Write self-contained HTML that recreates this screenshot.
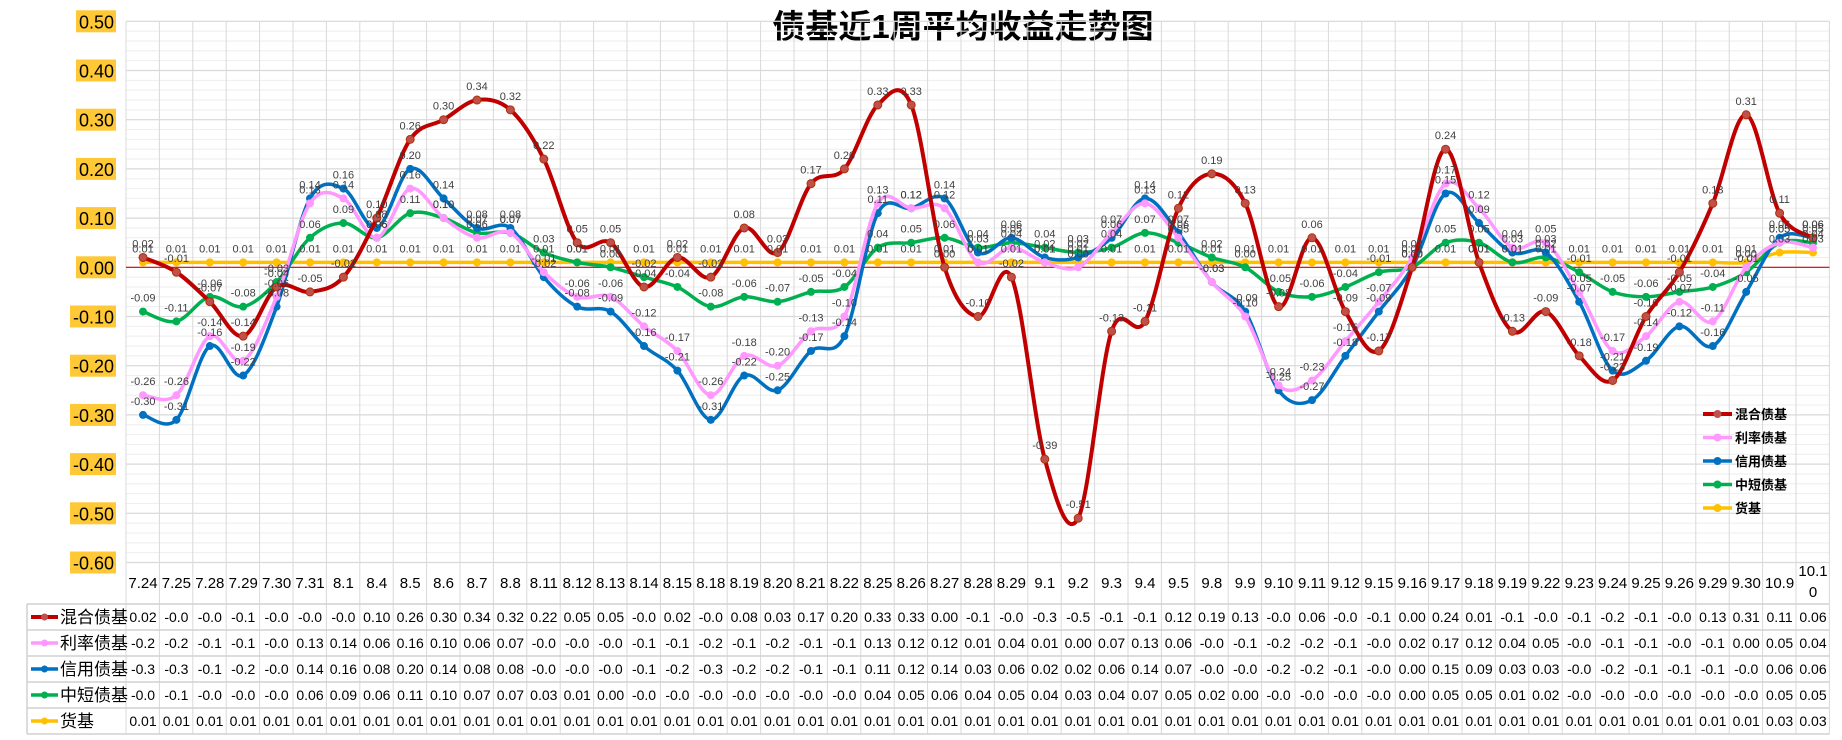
<!DOCTYPE html>
<html><head><meta charset="utf-8">
<style>
html,body{margin:0;padding:0;background:#fff;}
svg{display:block;font-family:"Liberation Sans","Noto Sans CJK SC",sans-serif;}
</style></head>
<body>
<svg id="chart" width="1842" height="740" viewBox="0 0 1842 740" xmlns="http://www.w3.org/2000/svg">
<rect width="1842" height="740" fill="#fff"/>
<text x="963" y="38" text-anchor="middle" font-size="33" font-weight="bold" fill="#000" font-family="'Liberation Sans','Noto Sans CJK SC',sans-serif">债基近1周平均收益走势图</text>
<g id="grid"></g>
<g id="yaxis"></g>
<g id="series"></g>
<g id="labels"></g>
<g id="table"></g>
<g id="legend"></g>
</svg>
<script>
const categories=["7.24","7.25","7.28","7.29","7.30","7.31","8.1","8.4","8.5","8.6","8.7","8.8","8.11","8.12","8.13","8.14","8.15","8.18","8.19","8.20","8.21","8.22","8.25","8.26","8.27","8.28","8.29","9.1","9.2","9.3","9.4","9.5","9.8","9.9","9.10","9.11","9.12","9.15","9.16","9.17","9.18","9.19","9.22","9.23","9.24","9.25","9.26","9.29","9.30","10.9","10.10"];
const hunheValues=[0.02,-0.01,-0.07,-0.14,-0.04,-0.05,-0.02,0.10,0.26,0.30,0.34,0.32,0.22,0.05,0.05,-0.04,0.02,-0.02,0.08,0.03,0.17,0.20,0.33,0.33,0.00,-0.10,-0.02,-0.39,-0.51,-0.13,-0.11,0.12,0.19,0.13,-0.08,0.06,-0.09,-0.17,0.00,0.24,0.01,-0.13,-0.09,-0.18,-0.23,-0.10,-0.01,0.13,0.31,0.11,0.06];
const lilvValues=[-0.26,-0.26,-0.14,-0.19,-0.06,0.13,0.14,0.06,0.16,0.10,0.06,0.07,-0.01,-0.06,-0.06,-0.12,-0.17,-0.26,-0.18,-0.20,-0.13,-0.10,0.13,0.12,0.12,0.01,0.04,0.01,0.00,0.07,0.13,0.06,-0.03,-0.10,-0.24,-0.23,-0.15,-0.07,0.02,0.17,0.12,0.04,0.05,-0.05,-0.17,-0.14,-0.07,-0.11,0.00,0.05,0.04];
const xinyongValues=[-0.30,-0.31,-0.16,-0.22,-0.08,0.14,0.16,0.08,0.20,0.14,0.08,0.08,-0.02,-0.08,-0.09,-0.16,-0.21,-0.31,-0.22,-0.25,-0.17,-0.14,0.11,0.12,0.14,0.03,0.06,0.02,0.02,0.06,0.14,0.07,-0.03,-0.09,-0.25,-0.27,-0.18,-0.09,0.00,0.15,0.09,0.03,0.03,-0.07,-0.21,-0.19,-0.12,-0.16,-0.05,0.06,0.06];
const zhongduanValues=[-0.09,-0.11,-0.06,-0.08,-0.03,0.06,0.09,0.06,0.11,0.10,0.07,0.07,0.03,0.01,0.00,-0.02,-0.04,-0.08,-0.06,-0.07,-0.05,-0.04,0.04,0.05,0.06,0.04,0.05,0.04,0.03,0.04,0.07,0.05,0.02,0.00,-0.05,-0.06,-0.04,-0.01,0.00,0.05,0.05,0.01,0.02,-0.01,-0.05,-0.06,-0.05,-0.04,-0.01,0.05,0.05];
const huobiValues=[0.01,0.01,0.01,0.01,0.01,0.01,0.01,0.01,0.01,0.01,0.01,0.01,0.01,0.01,0.01,0.01,0.01,0.01,0.01,0.01,0.01,0.01,0.01,0.01,0.01,0.01,0.01,0.01,0.01,0.01,0.01,0.01,0.01,0.01,0.01,0.01,0.01,0.01,0.01,0.01,0.01,0.01,0.01,0.01,0.01,0.01,0.01,0.01,0.01,0.03,0.03];
const seriesNames=["混合债基","利率债基","信用债基","中短债基","货基"];
const yTicks=["0.50","0.40","0.30","0.20","0.10","0.00","-0.10","-0.20","-0.30","-0.40","-0.50","-0.60"];

const NS="http://www.w3.org/2000/svg";
const X0=143, STEP=33.4, Y0=267.3, YS=492;
const PL=126, PR=PL+categories.length*STEP, PT=21.3, PB=562;
function xPos(i){return X0+i*STEP;}
function yPos(v){return Y0-v*YS;}
function mk(tag,attrs,parent){const e=document.createElementNS(NS,tag);for(const k in attrs)e.setAttribute(k,attrs[k]);parent.appendChild(e);return e;}

const grid=document.getElementById('grid');
for(let v=-0.6;v<=0.5001;v+=0.02){
  const l=mk('line',{x1:PL,x2:PR,y1:yPos(v),y2:yPos(v),stroke:'#eeeeee','stroke-width':1},grid);
  
  
}
for(let k=0;k<yTicks.length;k++){
  const v=parseFloat(yTicks[k]);
  const l=mk('line',{x1:PL,x2:PR,y1:yPos(v),y2:yPos(v),stroke:'#d9d9d9','stroke-width':1.2},grid);
  
  
}
for(let i=0;i<=categories.length;i++){
  const x=PL+i*STEP;
  const l=mk('line',{x1:x,x2:x,y1:PT,y2:734,stroke:'#d9d9d9','stroke-width':1},grid);
  
  
}
const zl=mk('line',{x1:PL,x2:PR,y1:Y0,y2:Y0,stroke:'#e00000','stroke-width':1.2},grid);



const ya=document.getElementById('yaxis');
for(let k=0;k<yTicks.length;k++){
  const y=yPos(parseFloat(yTicks[k]));
  const w=yTicks[k].length>4?46:40;
  const r=mk('rect',{x:116-w,y:y-11,width:w,height:22,fill:'#ffc836'},ya);
  
  
  const t=mk('text',{x:114,y:y+7,'text-anchor':'end','font-size':18,fill:'#000'},ya);
  t.textContent=yTicks[k];
  
  
}

const allSeries=[hunheValues,lilvValues,xinyongValues,zhongduanValues,huobiValues];
const colors=["#c00000","#ff99ff","#0070c0","#00b050","#ffc000"];
const widths=[4,3.5,3.5,3.5,3.5];
const slugs=["hunhe","lilv","xinyong","zhongduan","huobi"];

function smoothPath(vals){
  const p=vals.map((v,i)=>[xPos(i),yPos(v)]);
  let d='M'+p[0][0].toFixed(1)+','+p[0][1].toFixed(1);
  for(let i=0;i<p.length-1;i++){
    const p0=p[i-1]||p[i],p1=p[i],p2=p[i+1],p3=p[i+2]||p[i+1];
    const c1=[p1[0]+(p2[0]-p0[0])/6,p1[1]+(p2[1]-p0[1])/6];
    const c2=[p2[0]-(p3[0]-p1[0])/6,p2[1]-(p3[1]-p1[1])/6];
    d+=' C'+c1[0].toFixed(1)+','+c1[1].toFixed(1)+' '+c2[0].toFixed(1)+','+c2[1].toFixed(1)+' '+p2[0].toFixed(1)+','+p2[1].toFixed(1);
  }
  return d;
}
const sg=document.getElementById('series');
const lg=document.getElementById('labels');
for(let s=allSeries.length-1;s>=0;s--){
  const vals=allSeries[s];
  const g=mk('g',{},sg);
  
  
  const path=mk('path',{d:smoothPath(vals),fill:'none',stroke:colors[s],'stroke-width':widths[s],'stroke-linejoin':'round'},g);
  
  
  for(let i=0;i<vals.length;i++){
    const c=mk('circle',{cx:xPos(i),cy:yPos(vals[i]),r:4,fill:s===0?'#c0504d':colors[s],stroke:s===0?'#b03000':'none','stroke-width':1},g);
    
    
    const t=mk('text',{x:xPos(i),y:yPos(vals[i])-10,'text-anchor':'middle','font-size':11,fill:'#404040'},lg);
    t.textContent=vals[i].toFixed(2);
    
    
  }
}

const tb=document.getElementById('table');
const rowLines=[604,630,656,682,708,734];
for(let r=0;r<rowLines.length;r++){
  const l=mk('line',{x1:27,x2:PR,y1:rowLines[r],y2:rowLines[r],stroke:'#d0d0d0','stroke-width':1.5},tb);
  
  
}
const lb=mk('line',{x1:27,x2:27,y1:604,y2:734,stroke:'#d0d0d0','stroke-width':1.5},tb);


for(let i=0;i<categories.length;i++){
  const c=categories[i];
  if(c==="10.10"){
    const t1=mk('text',{x:xPos(i),y:576,'text-anchor':'middle','font-size':15,fill:'#000'},tb);
    t1.textContent="10.1";
    
    
    const t2=mk('text',{x:xPos(i),y:597,'text-anchor':'middle','font-size':15,fill:'#000'},tb);
    t2.textContent="0";
    
    
  } else {
    const t=mk('text',{x:xPos(i),y:588,'text-anchor':'middle','font-size':15,fill:'#000'},tb);
    t.textContent=c;
    
    
  }
}
function fmt(v){if(v<0){return '-'+(Math.floor(-v*10+1e-9)/10).toFixed(1);}return v.toFixed(2);}
for(let s=0;s<allSeries.length;s++){
  const yc=(rowLines[s]+rowLines[s+1])/2;
  const kl=mk('line',{x1:31,x2:58,y1:yc,y2:yc,stroke:colors[s],'stroke-width':s===0?4:3.5},tb);
  
  
  const kc=mk('circle',{cx:44.5,cy:yc,r:3.5,fill:s===0?'#c0504d':colors[s]},tb);
  
  
  const nt=mk('text',{x:60,y:yc+6,'font-size':17,fill:'#000'},tb);
  nt.textContent=seriesNames[s];
  
  
  const vals=allSeries[s];
  for(let i=0;i<vals.length;i++){
    const t=mk('text',{x:xPos(i),y:yc+5,'text-anchor':'middle','font-size':14,fill:'#000'},tb);
    t.textContent=fmt(vals[i]);
    
    
  }
}

const lgd=document.getElementById('legend');
for(let s=0;s<seriesNames.length;s++){
  const y=414+s*23.5;
  const g=mk('g',{},lgd);
  
  
  const l=mk('line',{x1:1703,x2:1732,y1:y,y2:y,stroke:colors[s],'stroke-width':s===0?4:3.5},g);
  
  
  const c=mk('circle',{cx:1717.5,cy:y,r:4,fill:s===0?'#c0504d':colors[s]},g);
  
  
  const t=mk('text',{x:1735,y:y+5,'font-size':13,'font-weight':'bold',fill:'#000'},g);
  t.textContent=seriesNames[s];
  
  
}
</script>
</body></html>
